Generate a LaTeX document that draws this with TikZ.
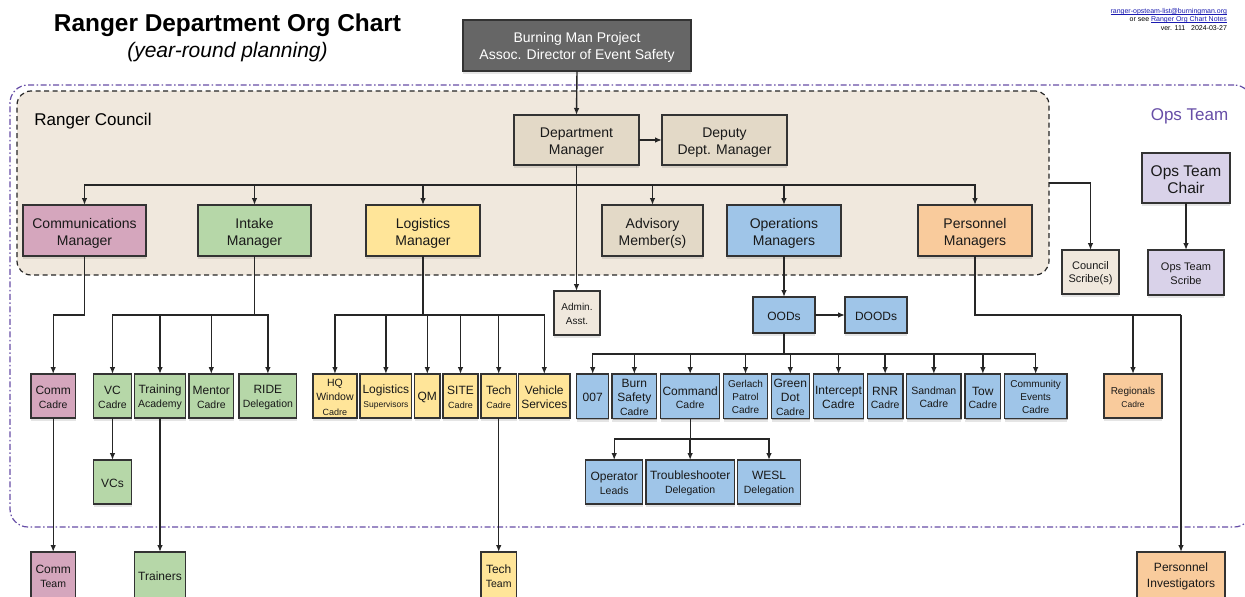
\documentclass[tikz,border=0pt]{standalone}
\usepackage{fontspec}
\setmainfont{Liberation Sans}
\usetikzlibrary{arrows.meta,shadows}
\definecolor{cpink}{HTML}{D5A6BD}
\definecolor{cgreen}{HTML}{B6D7A8}
\definecolor{cyellow}{HTML}{FFE599}
\definecolor{cblue}{HTML}{9FC5E8}
\definecolor{corange}{HTML}{F9CB9C}
\definecolor{cbeige}{HTML}{E3D9C7}
\definecolor{cpale}{HTML}{F0E8DD}
\definecolor{clav}{HTML}{D9D2E9}
\definecolor{cpurple}{HTML}{674EA7}
\definecolor{cgrey}{HTML}{666666}
\definecolor{clink}{HTML}{1A1AB0}
\newcommand\fz[2]{\fontsize{#1}{#2}\selectfont}
\newcommand\sm[1]{{\fontsize{10.5}{12}\selectfont #1}}
\newcommand\tn[1]{{\fontsize{9}{10}\selectfont #1}}
\newcommand\lnk[1]{\sbox0{#1}\rlap{\rule[-0.7pt]{\wd0}{0.4pt}}\box0}
\newcommand\bx[9]{\node[boxstyle,fill=#6,font=\fz{#7}{#8},minimum width={(#4-#2)*1pt},minimum height={(#5-#3)*1pt}] (#1) at ({(#2+#4)/2},{(#3+#5)/2}) {\ifdim #7pt=14pt \rule{0pt}{1.09em}\else\rule{0pt}{.92em}\fi #9};}
\tikzset{
  boxstyle/.style={draw=black!80,line width=1.2pt,align=center,inner sep=0pt,outer sep=0pt,text=black!90,
    general shadow={shadow xshift=0.6pt,shadow yshift=-1.4pt,fill=black,opacity=.22},
    general shadow={shadow xshift=0.3pt,shadow yshift=-3pt,fill=black,opacity=.10}},
  conn/.style={draw=black!85,line width=1.4pt},
  arr/.style={conn,-{Latex[length=7pt,width=5.6pt]}},
  label/.style={inner sep=0pt,outer sep=0pt,align=center}
}
\begin{document}
\begin{tikzpicture}[x=1pt,y=-1pt]
\useasboundingbox (0,0) rectangle (1245,597);
\clip (0,0) rectangle (1245,597);
\fill[white] (0,0) rectangle (1245,597);

% regions
\node[draw=cpurple,line width=1.2pt,dash pattern=on 6pt off 2.5pt on 1.5pt off 2.5pt,rounded corners=18pt,
  minimum width=1242pt,minimum height=442pt,inner sep=0pt,outer sep=0pt] (opsteam) at (631,306) {};
\node[draw=black!85,fill=cpale,line width=1.2pt,dash pattern=on 5pt off 3.5pt,rounded corners=14pt,
  minimum width=1032pt,minimum height=184pt,inner sep=0pt,outer sep=0pt] (council) at (533,183) {};

% titles
\node[label,font=\bfseries\fz{24.4}{30}] (title) at (227.5,25) {Ranger Department Org Chart};
\node[label,font=\itshape\fz{21}{25}] (subtitle) at (227.5,52) {(year-round planning)};
\node[label,anchor=east,font=\fz{7}{8},text=clink] (meta1) at (1227,11.5) {\lnk{ranger-opsteam-list@burningman.org}};
\node[label,anchor=east,font=\fz{7}{8}] (meta2) at (1227,20) {or see \textcolor{clink}{\lnk{Ranger Org Chart Notes}}};
\node[label,anchor=east,font=\fz{7}{8}] (meta3) at (1227,28.5) {ver. 111\ \ \ 2024-03-27};
\node[label,font=\fz{17}{20}] (rc) at (93,121) {Ranger Council};
\node[label,font=\fz{17}{20},text=cpurple] (ot) at (1189.5,116) {Ops Team};

% top
\node[boxstyle,fill=cgrey,text=white,font=\fz{14}{17.5},minimum width=228pt,minimum height=51pt] (bm) at (577,45.5) {\rule{0pt}{1em}Burning Man Project\\Assoc. Director of Event Safety};
\bx{dept}{514}{115}{639}{165}{cbeige}{14}{17}{Department\\Manager}
\bx{deputy}{662}{115}{787}{165}{cbeige}{14}{17}{Deputy\\Dept. Manager}

% managers
\bx{commgr}{23}{205}{146}{256}{cpink}{14}{17}{Communications\\Manager}
\bx{intake}{198}{205}{311}{256}{cgreen}{14}{17}{Intake\\Manager}
\bx{logmgr}{366}{205}{480}{256}{cyellow}{14}{17}{Logistics\\Manager}
\bx{advis}{602}{205}{703}{256}{cbeige}{14}{17}{Advisory\\Member(s)}
\bx{opsmgr}{727}{205}{841}{256}{cblue}{14}{17}{Operations\\Managers}
\bx{permgr}{918}{205}{1032}{256}{corange}{14}{17}{Personnel\\Managers}

% side
\bx{cscribe}{1062}{250}{1119}{294}{cpale}{11}{13.5}{Council\\Scribe(s)}
\bx{chair}{1142}{153}{1230}{203}{clav}{15.5}{17}{Ops Team\\Chair}
\bx{oscribe}{1148}{250}{1224}{295}{clav}{11}{13.5}{Ops Team\\Scribe}
\bx{admin}{554}{291}{600}{335}{cpale}{10}{13.5}{Admin.\\Asst.}
\bx{oods}{753}{297}{815}{333}{cblue}{12}{14}{OODs}
\bx{doods}{845}{297}{907}{333}{cblue}{12}{14}{DOODs}

% pink / green cadres
\bx{comc}{31}{374}{75.4}{418}{cpink}{12}{13.5}{Comm\\\sm{Cadre}}
\bx{vcc}{93.2}{374}{131.8}{418}{cgreen}{12}{13.5}{VC\\\sm{Cadre}}
\bx{train}{134.6}{374}{185.4}{418}{cgreen}{12}{13.5}{Training\\\sm{Academy}}
\bx{mentor}{189}{374}{233.6}{418}{cgreen}{12}{13.5}{Mentor\\\sm{Cadre}}
\bx{ride}{239}{374}{296.8}{418}{cgreen}{12}{13.5}{RIDE\\\sm{Delegation}}
% yellow cadres
\bx{hq}{312.9}{374}{357}{418}{cyellow}{10.5}{14.5}{HQ\\Window\\\tn{Cadre}}
\bx{logs}{360}{374}{411.8}{418}{cyellow}{12}{13.5}{Logistics\\{\fontsize{8.5}{10}\selectfont Supervisors}}
\bx{qm}{414.6}{374}{440}{418}{cyellow}{12}{13.5}{QM}
\bx{site}{443}{374}{478}{418}{cyellow}{12}{13.5}{SITE\\\tn{Cadre}}
\bx{tech}{481}{374}{516.4}{418}{cyellow}{12}{13.5}{Tech\\\tn{Cadre}}
\bx{veh}{518.6}{374}{570}{418}{cyellow}{12}{14.5}{Vehicle\\Services}
% blue cadres
\bx{b007}{576.7}{374}{608.7}{418.7}{cblue}{12}{14}{007}
\bx{burn}{612}{374}{656.7}{418.7}{cblue}{12}{14}{Burn\\Safety\\\sm{Cadre}}
\bx{cmd}{660.7}{374}{719.7}{418.7}{cblue}{12}{13.5}{Command\\\sm{Cadre}}
\bx{gerl}{723.3}{374}{767.7}{418.7}{cblue}{10}{13}{Gerlach\\Patrol\\Cadre}
\bx{gdot}{771.3}{374}{809.3}{418.7}{cblue}{12}{14}{Green\\Dot\\\sm{Cadre}}
\bx{icept}{813.3}{374}{863.7}{418.7}{cblue}{12}{14}{Intercept\\Cadre}
\bx{rnr}{867.3}{374}{903}{418.7}{cblue}{12}{13.5}{RNR\\\sm{Cadre}}
\bx{sand}{906.7}{374}{961}{418.7}{cblue}{10.5}{13.5}{Sandman\\Cadre}
\bx{tow}{965}{374}{1000.7}{418.7}{cblue}{12}{13.5}{Tow\\\sm{Cadre}}
\bx{cev}{1004.3}{374}{1067}{418.7}{cblue}{10}{13}{Community\\Events\\Cadre}
\bx{reg}{1104}{374}{1162}{418}{corange}{10}{13}{Regionals\\{\fontsize{8.5}{10}\selectfont Cadre}}
% third row
\bx{vcs}{93.2}{460}{131.8}{504}{cgreen}{12}{14}{VCs}
\bx{oper}{585.7}{460}{642.7}{504}{cblue}{12}{13.5}{Operator\\\sm{Leads}}
\bx{trbl}{646}{460}{734.3}{504}{cblue}{12}{13.5}{Troubleshooter\\\sm{Delegation}}
\bx{wesl}{737.7}{460}{800.3}{504}{cblue}{12}{13.5}{WESL\\\sm{Delegation}}
% bottom
\bx{comt}{31}{552}{75.4}{598}{cpink}{12}{13.5}{Comm\\\sm{Team}}
\bx{trainers}{134.6}{552}{185.4}{598}{cgreen}{12}{14}{Trainers}
\bx{techt}{481}{552}{516.4}{598}{cyellow}{12}{13.5}{Tech\\\sm{Team}}
\bx{pinv}{1137}{552}{1225}{598}{corange}{12}{16}{Personnel\\Investigators}

% bus levels
\coordinate (busm) at (0,185);
\coordinate (buslow) at (0,315);
\coordinate (busb) at (0,354);
\coordinate (busc) at (0,439);

% connectors
\draw[arr] (bm.south) -- (dept.north);
\draw[arr] (dept.east) -- (deputy.west);
\draw[arr] (dept.south) -- (dept.south |- admin.north);
\foreach \n in {commgr,intake,logmgr,advis,opsmgr,permgr}
  \draw[arr] (dept.south |- busm) -| (\n.north);
\draw[arr] (council.east) -| (cscribe.north);
\draw[arr] (chair.south) -- (chair.south |- oscribe.north);

\draw[arr] (commgr.south) |- (comc.north |- buslow) -- (comc.north);
\draw[arr] (comc.south) -- (comt.north);
\draw[conn] (intake.south) -- (intake.south |- buslow);
\foreach \n in {vcc,train,mentor,ride}
  \draw[arr] (intake.south |- buslow) -| (\n.north);
\draw[arr] (vcc.south) -- (vcs.north);
\draw[arr] (train.south) -- (trainers.north);
\draw[conn] (logmgr.south) -- (logmgr.south |- buslow);
\foreach \n in {hq,logs,qm,site,tech,veh}
  \draw[arr] (logmgr.south |- buslow) -| (\n.north);
\draw[arr] (tech.south) -- (techt.north);

\draw[arr] (opsmgr.south) -- (oods.north);
\draw[arr] (oods.east) -- (doods.west);
\draw[conn] (oods.south) -- (oods.south |- busb);
\foreach \n in {b007,burn,cmd,gerl,gdot,icept,rnr,sand,tow,cev}
  \draw[arr] (oods.south |- busb) -| (\n.north);
\draw[conn] (cmd.south) -- (cmd.south |- busc);
\foreach \n in {oper,trbl,wesl}
  \draw[arr] (cmd.south |- busc) -| (\n.north);

\draw[conn] (permgr.south) |- (pinv.north |- buslow);
\draw[arr] (pinv.north |- buslow) -- (pinv.north);
\draw[arr] (permgr.south |- buslow) -| (reg.north);
\end{tikzpicture}
\end{document}
